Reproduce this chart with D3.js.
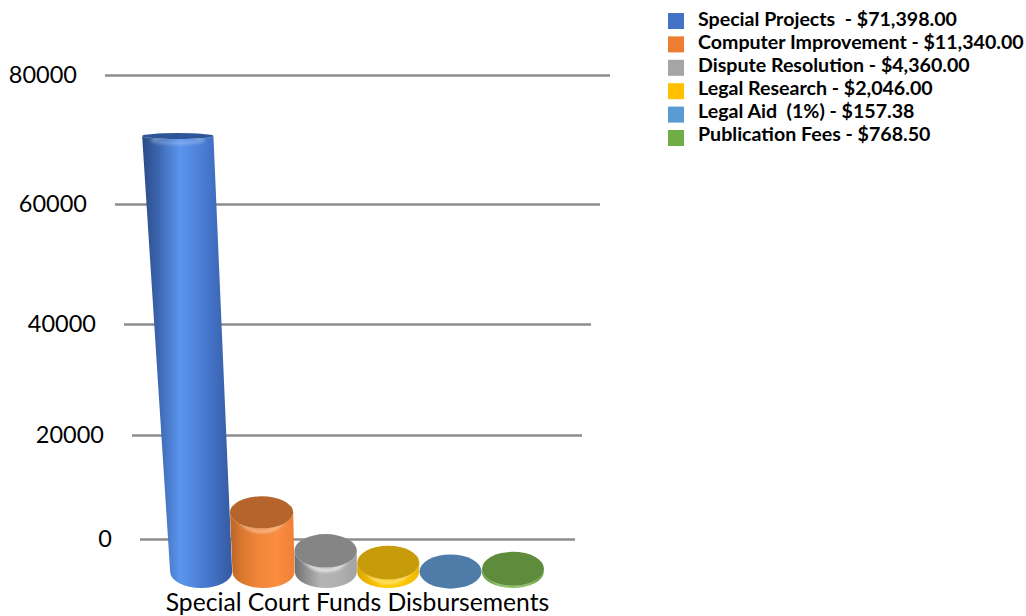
<!DOCTYPE html>
<html>
<head>
<meta charset="utf-8">
<script src="https://cdn.jsdelivr.net/npm/d3@7"></script>
<style>
  html, body { margin: 0; padding: 0; background: #fff; }
  svg { display: block; }
  text { font-family: Lato, "Open Sans", sans-serif; fill: #000; }
  .legend-label { font-weight: 700; font-size: 19.6px; white-space: pre; }
  .tick-label { font-size: 23.5px; }
  .title { font-size: 24.7px; }
</style>
</head>
<body>
<svg id="chart" width="1026" height="616"></svg>
<script>
// chart data
const categories = ["Special Projects ", "Computer Improvement", "Dispute Resolution", "Legal Research", "Legal Aid  (1%)", "Publication Fees"];
const amounts = [71398, 11340, 4360, 2046, 157.38, 768.5];
const tickValues = [0, 20000, 40000, 60000, 80000];
const chartTitle = "Special Court Funds Disbursements";

// legend square colour, then side colours from left edge to right edge, then the cap
const swatchColors = ["#4472C4", "#ED7D31", "#A5A5A5", "#FFC000", "#5B9BD5", "#70AD47"];
const sideColors = [
  ["#2b4a86", "#3c66b0", "#5b95ee", "#4678cf", "#35599f"],
  ["#b9652a", "#d9772f", "#f08439", "#fa8d40", "#ee8136"],
  ["#707070", "#8e8e8e", "#b4b4b4", "#b0b0b0", "#a2a2a2"],
  ["#d9a500", "#f0b800", "#ffcb05", "#ffc800", "#f0b800"],
  ["#5a92c8", "#5f9ad2", "#66a3dc", "#5f9ad2", "#5a92c8"],
  ["#689c3e", "#70a845", "#82bc55", "#78b04b", "#6b9f41"],
];
const capColors = ["#2f5597", "#b5652c", "#858585", "#c89b0a", "#4e7ba8", "#5e8c3c"];
const rimOpacity = [0.28, 0.45, 0.75, 0.5, 0, 0.3];

const svg = d3.select("#chart");
const defs = svg.append("defs");

defs.append("filter").attr("id", "soft")
  .attr("x", "-20%").attr("y", "-60%").attr("width", "140%").attr("height", "220%")
  .append("feGaussianBlur").attr("stdDeviation", 1.8);

// the gridlines are not evenly spaced, the picture is in perspective
const yGrid = d3.scaleLinear().domain(tickValues).range([539, 435, 324, 204, 75]);
const gridLeft = d3.scaleLinear().domain(tickValues).range([140, 132, 124, 115, 105]);
const gridRight = d3.scaleLinear().domain(tickValues).range([575, 582, 591, 600, 610]);

// bars stand on a nearer plane and have their own height scale
const baseY = 572;
const yBar = d3.scalePow().exponent(1.081).domain([0, 71398]).range([baseY, 136]);
const xBase = d3.scaleBand().domain(categories).range([170, 544]);
const vanishX = 357;
const baseRx = 31;
const growth = d3.scaleLinear().domain([baseY, 136]).range([1, 1.15]);
const capRy = d3.scaleLinear().domain([136, 512, baseY]).range([3, 16, 17]);

function drawGrid() {
  const axis = d3.axisLeft(yGrid)
    .tickValues(tickValues)
    .tickFormat(d3.format("d"))
    .tickSize(0);

  const g = svg.append("g").attr("class", "y-axis").call(axis);
  g.select(".domain").remove();

  g.selectAll(".tick line")
    .attr("x1", (d) => gridLeft(d))
    .attr("x2", (d) => gridRight(d))
    .attr("stroke", "#8c8c8c")
    .attr("stroke-width", 2.4);

  g.selectAll(".tick text")
    .attr("class", "tick-label")
    .attr("x", (d) => gridLeft(d) - 28)
    .attr("dy", "0.32em")
    .attr("fill", null);
}

function drawBars() {
  categories.forEach((name, i) => {
    const grad = defs.append("linearGradient").attr("id", "side" + i);
    [0, 0.18, 0.42, 0.72, 1].forEach((o, k) => {
      grad.append("stop").attr("offset", o).attr("stop-color", sideColors[i][k]);
    });

    const bx = xBase(name) + xBase.bandwidth() / 2;
    const ty = yBar(amounts[i]);
    const s = growth(ty);
    const tx = vanishX + (bx - vanishX) * s;
    const rx = baseRx * s;
    const ry = capRy(ty);
    const g = svg.append("g").attr("class", "bar");

    const side = `M${tx - rx},${ty} L${bx - baseRx},${baseY} A${baseRx},16 0 0 0 ${bx + baseRx},${baseY} L${tx + rx},${ty} A${rx},${ry} 0 0 1 ${tx - rx},${ty} Z`;

    g.append("clipPath").attr("id", "clip" + i).append("path").attr("d", side);
    g.append("path").attr("d", side).attr("fill", `url(#side${i})`);

    // lit rim just below the front of the cap
    g.append("ellipse")
      .attr("clip-path", `url(#clip${i})`)
      .attr("cx", tx).attr("cy", ty + (i == 0 ? 4 : 3))
      .attr("rx", rx * 0.72).attr("ry", ry)
      .attr("fill", "none")
      .attr("stroke", "#fff")
      .attr("stroke-opacity", rimOpacity[i])
      .attr("stroke-width", 3)
      .attr("filter", "url(#soft)");

    g.append("ellipse")
      .attr("cx", tx).attr("cy", ty)
      .attr("rx", rx).attr("ry", ry)
      .attr("fill", capColors[i]);
  });
}

function drawLegend() {
  const ySwatch = d3.scalePoint().domain(categories).range([21, 138]);
  const yLabel = d3.scalePoint().domain(categories).range([20, 135]);
  const money = d3.format("$,.2f");

  const legend = svg.append("g").attr("class", "legend");

  legend.selectAll("rect")
    .data(categories)
    .join("rect")
    .attr("x", 668).attr("y", (d) => ySwatch(d) - 8)
    .attr("width", 16).attr("height", 16)
    .attr("fill", (d, i) => swatchColors[i]);

  legend.selectAll("text")
    .data(categories)
    .join("text")
    .attr("class", "legend-label")
    .attr("x", 698)
    .attr("y", (d) => yLabel(d))
    .attr("dy", "0.32em")
    .text((d, i) => `${d} - ${money(amounts[i])}`);
}

drawGrid();
drawBars();
drawLegend();

svg.append("text")
  .attr("class", "title")
  .attr("x", 357.5).attr("y", 611)
  .attr("text-anchor", "middle")
  .text(chartTitle);
</script>
</body>
</html>
